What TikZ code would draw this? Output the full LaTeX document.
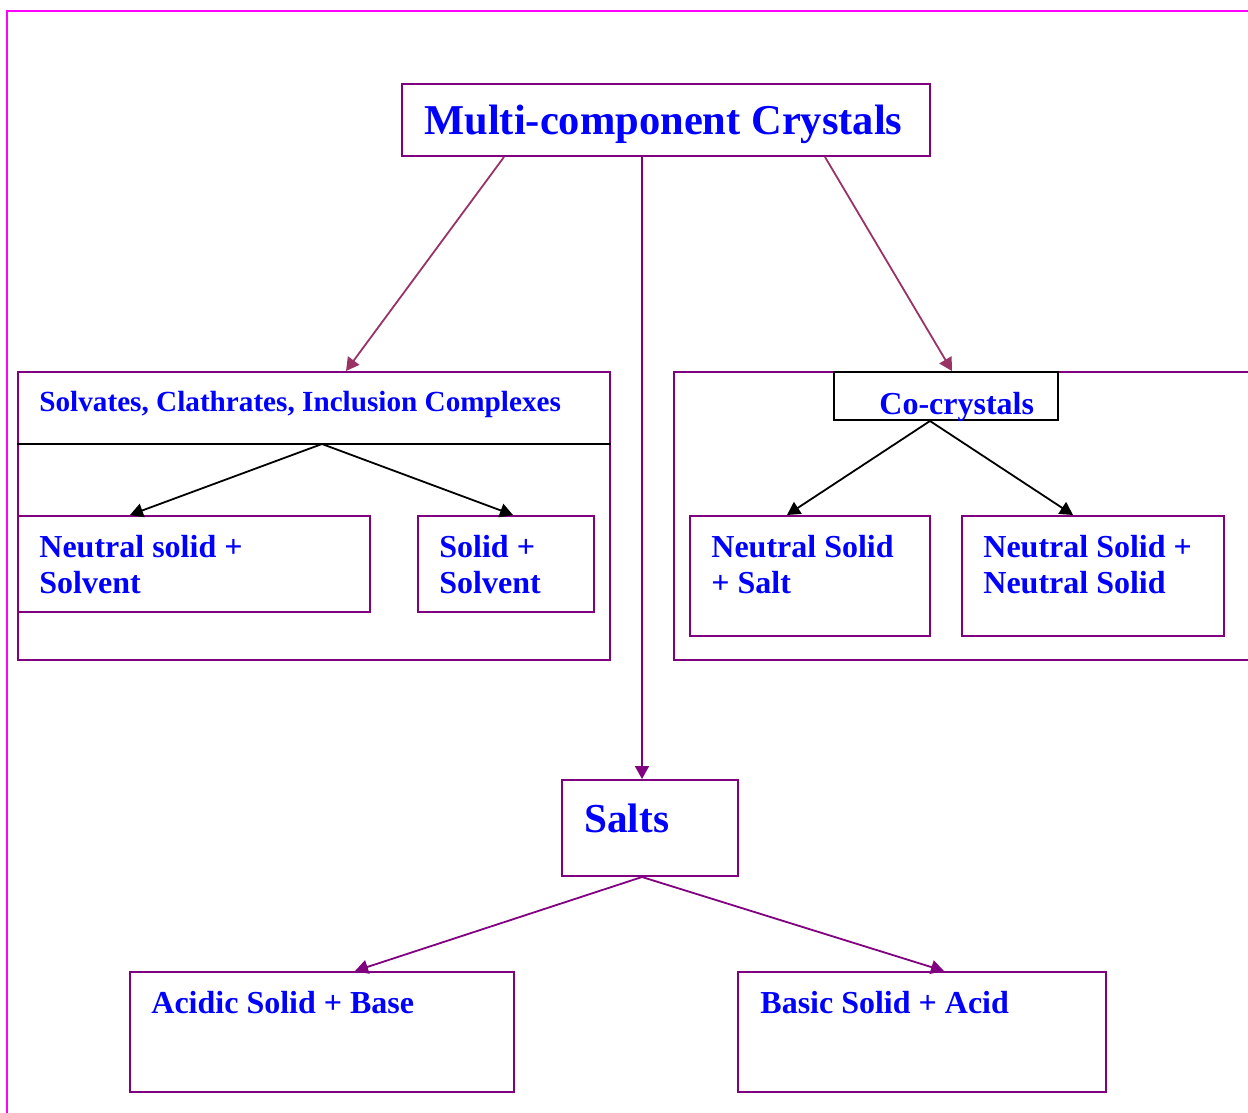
\documentclass[tikz,border=0pt]{standalone}
\usepackage{fontspec}
\setmainfont{Liberation Serif}
\usetikzlibrary{arrows.meta,fit}
\definecolor{framemag}{HTML}{FF00FF}
\definecolor{boxpurple}{HTML}{800080}
\definecolor{linkmaroon}{HTML}{993366}
\definecolor{textblue}{HTML}{0000FF}
\begin{document}
\begin{tikzpicture}[x=0.5pt,y=-0.5pt,
  box/.style={draw=boxpurple,line width=1pt,inner sep=0pt},
  blackbox/.style={draw=black,line width=1pt,inner sep=0pt},
  lbl/.style={anchor=base west,inner sep=0pt,text=textblue,
    font=\bfseries\fontsize{16}{19}\selectfont},
  tip/.style={-{Triangle[length=6.5pt,width=7pt]}},
  maroonlink/.style={tip,draw=linkmaroon,fill=linkmaroon,line width=0.9pt},
  purplelink/.style={tip,draw=boxpurple,fill=boxpurple,line width=0.9pt},
  blacklink/.style={tip,draw=black,fill=black,line width=0.9pt}]
\clip (0,0) rectangle (1248,1113);
\fill[white] (0,0) rectangle (1248,1113);
% outer page frame
\draw[framemag,line width=1.2pt] (7,11) rectangle (1290,1150);

% top node
\node[box,fit={(402,84) (930,156)}] (title) {};
\node[lbl,font=\bfseries\fontsize{21.25}{25}\selectfont] (titletxt) at (424,134) {Multi-component Crystals};

% solvates group
\node[box,fit={(18,372) (610,660)}] (sv) {};
\node[lbl,font=\bfseries\fontsize{14.6}{17}\selectfont] (svtxt) at (39,411) {Solvates, Clathrates, Inclusion Complexes};
\draw[black,line width=1pt] (sv.west |- 0,444) -- (sv.east |- 0,444);
\coordinate (svsplit) at (322,444);
\node[box,fit={(18,516) (370,612)}] (nsolv) {};
\node[lbl] (nsolva) at (39,557) {Neutral solid +};
\node[lbl] (nsolvb) at (39,593) {Solvent};
\node[box,fit={(418,516) (594,612)}] (solv) {};
\node[lbl] (solva) at (439,557) {Solid +};
\node[lbl] (solvb) at (439,593) {Solvent};
\draw[blacklink] (svsplit) -- (nsolv.north -| 130,0);
\draw[blacklink] (svsplit) -- (solv.north -| 513,0);

% co-crystal group
\node[box,fit={(674,372) (1300,660)}] (cg) {};
\node[blackbox,fit={(834,372) (1058,420)}] (cc) {};
\node[lbl] (cctxt) at (879,414) {Co-crystals};
\node[box,fit={(690,516) (930,636)}] (nsalt) {};
\node[lbl] (nsalta) at (711,557) {Neutral Solid};
\node[lbl] (nsaltb) at (711,593) {+ Salt};
\node[box,fit={(962,516) (1224,636)}] (nn) {};
\node[lbl] (nna) at (983,557) {Neutral Solid +};
\node[lbl] (nnb) at (983,593) {Neutral Solid};
\draw[blacklink] (cc.south -| 930,0) -- (nsalt.north -| 787,0);
\draw[blacklink] (cc.south -| 930,0) -- (nn.north -| 1073,0);

% salts group
\node[box,fit={(562,780) (738,876)}] (salts) {};
\node[lbl,font=\bfseries\fontsize{20.6}{24}\selectfont] (saltstxt) at (584,832) {Salts};
\node[box,fit={(130,972) (514,1092)}] (acid) {};
\node[lbl] (acidtxt) at (151,1013) {Acidic Solid + Base};
\node[box,fit={(738,972) (1106,1092)}] (basic) {};
\node[lbl] (basictxt) at (760,1013) {Basic Solid + Acid};
\draw[purplelink] (salts.south -| 642,0) -- (acid.north -| 355,0);
\draw[purplelink] (salts.south -| 642,0) -- (basic.north -| 944,0);

% links from the top node
\draw[maroonlink] (title.south -| 504,0) -- (sv.north -| 346,0);
\draw[maroonlink] (title.south -| 825,0) -- (cg.north -| 952,0);
\draw[purplelink] (title.south -| 642,0) -- (salts.north -| 642,0);
\end{tikzpicture}
\end{document}
